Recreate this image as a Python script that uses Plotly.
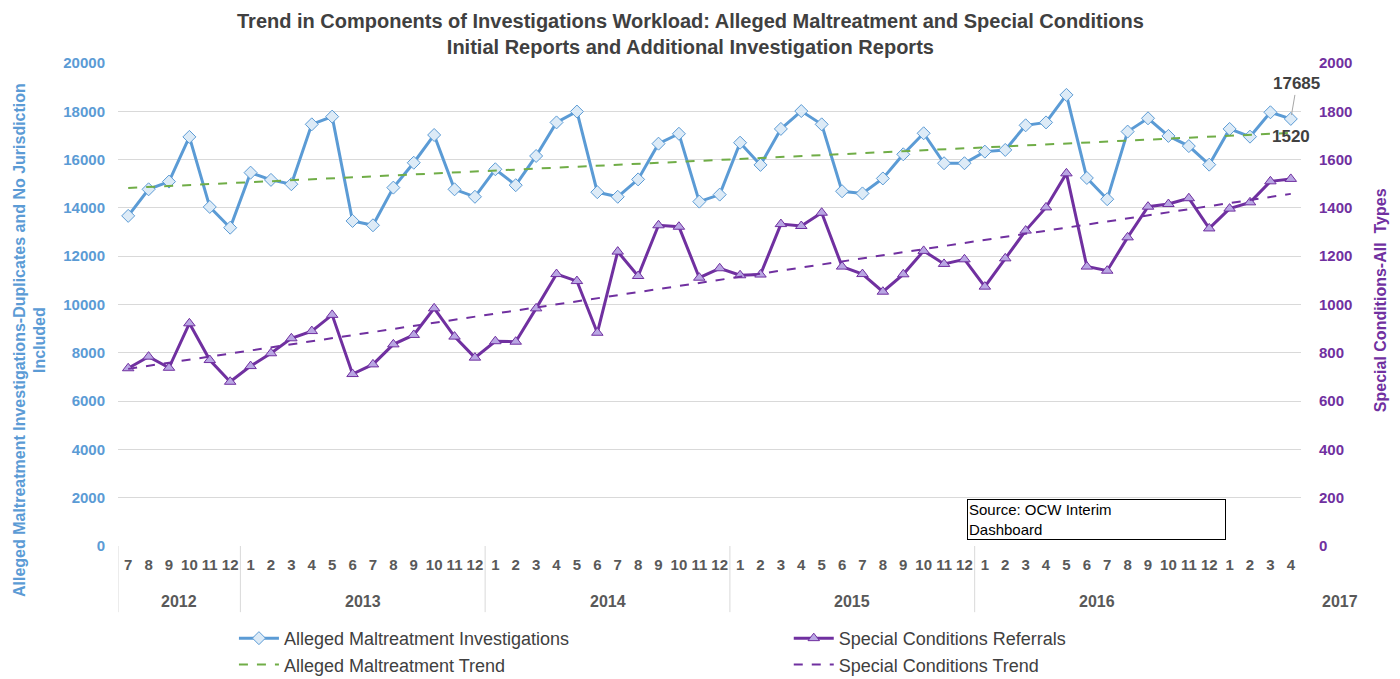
import numpy as np
import plotly.graph_objects as go

# ---------------- data ----------------
years = ["2012", "2013", "2014", "2015", "2016", "2017"]
year_counts = [6, 12, 12, 12, 12, 4]
months = ["7", "8", "9", "10", "11", "12"] + [str(m) for m in range(1, 13)] * 4 + ["1", "2", "3", "4"]

alleged = [13670, 14770, 15090, 16940, 14040, 13180,
           15460, 15160, 14980, 17460, 17780, 13460, 13280, 14840, 15870, 17020, 14770, 14460,
           15600, 14940, 16150, 17540, 17990, 14650, 14460, 15180, 16660, 17070, 14260, 14550,
           16700, 15780, 17270, 18010, 17460, 14690, 14600, 15220, 16220, 17090, 15850, 15850,
           16330, 16400, 17420, 17540, 18680, 15240, 14360, 17160, 17710, 16980, 16560, 15790,
           17270, 16950, 17960, 17685]

special = [736, 784, 738, 922, 770, 680,
           745, 798, 860, 890, 957, 712, 752, 835, 874, 984, 867, 780,
           848, 846, 984, 1126, 1097, 883, 1219, 1118, 1328, 1322, 1111, 1150,
           1121, 1124, 1333, 1325, 1380, 1157, 1126, 1053, 1125, 1222, 1168, 1187,
           1074, 1191, 1306, 1402, 1543, 1157, 1140, 1278, 1405, 1416, 1440, 1315,
           1397, 1423, 1510, 1520]

x = list(range(len(months)))

# linear trend lines (like the Excel trendline)
a_fit = np.polyfit(x, alleged, 1)
s_fit = np.polyfit(x, special, 1)
alleged_trend = np.polyval(a_fit, x)
special_trend = np.polyval(s_fit, x)

BLUE = "#5B9BD5"
PURPLE = "#7030A0"
GREEN = "#70AD47"
GRID = "#D9D9D9"
DARK = "#404040"
SANS = "Liberation Sans, Arial"

fig = go.Figure()

fig.add_trace(go.Scatter(
    x=x, y=alleged, name="Alleged Maltreatment Investigations",
    mode="lines+markers",
    line=dict(color=BLUE, width=3),
    marker=dict(symbol="diamond", size=10, color="#DDEBF7", line=dict(color=BLUE, width=1)),
    yaxis="y", legend="legend"
))
fig.add_trace(go.Scatter(
    x=x, y=alleged_trend, name="Alleged Maltreatment Trend",
    mode="lines", line=dict(color=GREEN, width=2, dash="dash"),
    yaxis="y", legend="legend"
))
fig.add_trace(go.Scatter(
    x=x, y=special, name="Special Conditions Referrals",
    mode="lines+markers",
    line=dict(color=PURPLE, width=3),
    marker=dict(symbol="triangle-up", size=10, color="#B9A6E3", line=dict(color=PURPLE, width=1)),
    yaxis="y2", legend="legend2"
))
fig.add_trace(go.Scatter(
    x=x, y=special_trend, name="Special Conditions Trend",
    mode="lines", line=dict(color=PURPLE, width=2, dash="dash"),
    yaxis="y2", legend="legend2"
))

# year group dividers and labels
shapes = []
annotations = []
start = 0
for yr, n in zip(years, year_counts):
    if yr != "2017":
        shapes.append(dict(type="line", xref="x", yref="paper",
                           x0=start - 0.5, x1=start - 0.5, y0=0, y1=-0.137,
                           line=dict(color=GRID, width=1)))
        annotations.append(dict(text="<b>" + yr + "</b>", xref="x", yref="paper",
                                x=start + (n - 1) / 2, y=-0.114,
                                xanchor="center", yanchor="middle", showarrow=False,
                                font=dict(family=SANS, size=16, color="#595959")))
    else:
        # the last year label sits past the right edge, as in the source chart
        annotations.append(dict(text="<b>" + yr + "</b>", xref="paper", yref="paper",
                                x=1.033, y=-0.114,
                                xanchor="center", yanchor="middle", showarrow=False,
                                font=dict(family=SANS, size=16, color="#595959")))
    start += n

# chart title
annotations.append(dict(
    text="<b>Trend in Components of Investigations Workload: Alleged Maltreatment and Special Conditions<br>"
         "Initial Reports and Additional Investigation Reports</b>",
    xref="paper", yref="paper", x=0.484, y=1.113, xanchor="center", yanchor="top",
    showarrow=False, font=dict(family=SANS, size=20, color=DARK)))

# axis titles
annotations.append(dict(
    text="<b>Alleged Maltreatment Investigations-Duplicates and No Jurisdiction<br>Included</b>",
    xref="paper", yref="paper", x=-0.075, y=0.427, xanchor="center", yanchor="middle",
    textangle=-90, showarrow=False,
    font=dict(family=SANS, size=16, color=BLUE)))
annotations.append(dict(
    text="<b>Special Conditions-All  Types</b>",
    xref="paper", yref="paper", x=1.0668, y=0.509, xanchor="center", yanchor="middle",
    textangle=-90, showarrow=False,
    font=dict(family=SANS, size=16, color=PURPLE)))

# data labels on last points
annotations.append(dict(
    text="<b>17685</b>", x=x[-1], y=alleged[-1], xref="x", yref="y",
    showarrow=True, arrowhead=0, arrowwidth=1, arrowcolor="#A6A6A6",
    ax=6, ay=-35, standoff=4,
    font=dict(family=SANS, size=17, color=DARK)))
annotations.append(dict(
    text="<b>1520</b>", x=x[-1], y=special[-1], xref="x", yref="y2",
    showarrow=False, yshift=42, xshift=0,
    font=dict(family=SANS, size=17, color=DARK)))

# source box
annotations.append(dict(
    text="Source: OCW Interim<br>Dashboard", xref="paper", yref="paper",
    x=0.7177, y=0.012, xanchor="left", yanchor="bottom", align="left",
    showarrow=False, width=255, bordercolor="black", borderwidth=1, borderpad=1,
    bgcolor="white",
    font=dict(family=SANS, size=15, color="black")))

legend_common = dict(
    orientation="v", yref="container", y=0.088, yanchor="top", xanchor="left",
    font=dict(family=SANS, size=18, color=DARK), itemwidth=40,
    tracegroupgap=0, bgcolor="rgba(0,0,0,0)"
)

# the page body adds an 8px offset, so the figure is sized 8px smaller
fig.update_layout(
    width=1392, height=671,
    paper_bgcolor="white", plot_bgcolor="white",
    margin=dict(l=110, r=99, t=55, b=133),
    xaxis=dict(
        range=[-0.5, 57.5], tickmode="array", tickvals=x, ticktext=months,
        showgrid=False, zeroline=False, showline=False, ticks="", tickangle=0,
        automargin=False, ticklabelstandoff=8,
        tickfont=dict(family=SANS, size=15, color="#595959", weight="bold"),
    ),
    yaxis=dict(
        range=[0, 20000], dtick=2000, tickformat="d", showgrid=True, gridcolor=GRID,
        gridwidth=1, zeroline=False, showline=False, ticks="", automargin=False,
        ticklabelstandoff=12,
        tickfont=dict(family=SANS, size=15, color=BLUE, weight="bold"),
    ),
    yaxis2=dict(
        range=[0, 2000], dtick=200, tickformat="d", overlaying="y", side="right",
        showgrid=False, zeroline=False, showline=False, ticks="", automargin=False,
        ticklabelstandoff=17,
        tickfont=dict(family=SANS, size=15, color=PURPLE, weight="bold"),
    ),
    legend=dict(x=0.098, **legend_common),
    legend2=dict(x=0.567, **legend_common),
    shapes=shapes,
    annotations=annotations,
    showlegend=True,
)

fig.write_html("out.html")
